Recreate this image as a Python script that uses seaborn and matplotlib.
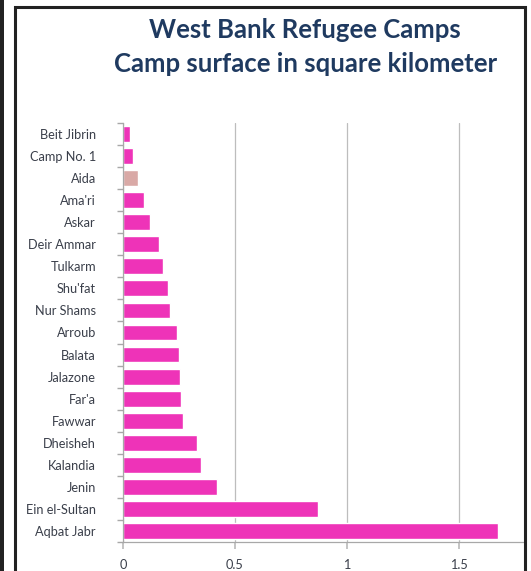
import matplotlib
matplotlib.use("Agg")
import matplotlib.pyplot as plt
import seaborn as sns
import pandas as pd
import numpy as np
from matplotlib.patches import Rectangle

camps = ["Beit Jibrin", "Camp No. 1", "Aida", "Ama'ri", "Askar", "Deir Ammar",
         "Tulkarm", "Shu'fat", "Nur Shams", "Arroub", "Balata", "Jalazone",
         "Far'a", "Fawwar", "Dheisheh", "Kalandia", "Jenin", "Ein el-Sultan",
         "Aqbat Jabr"]
surface = [0.03, 0.045, 0.067, 0.095, 0.12, 0.16, 0.18, 0.2, 0.21, 0.24,
           0.25, 0.253, 0.26, 0.27, 0.33, 0.35, 0.42, 0.87, 1.675]
highlight = "Aida"

df = pd.DataFrame({"camp": camps, "surface": surface})

sns.set_theme(style="white")
plt.rcParams['font.family'] = ['Lato', 'DejaVu Sans']

fig = plt.figure(figsize=(5.31, 5.71), dpi=100)
ax = fig.add_axes([0.2316, 0.0508, 0.7533, 0.7338])

palette = {c: ("#D9A9A6" if c == highlight else "#EE33B8") for c in camps}
sns.barplot(data=df, y="camp", x="surface", hue="camp", palette=palette,
            legend=False, width=0.72, ax=ax, saturation=1)

ax.set_xlim(0, 1.786)
ax.set_ylim(len(camps) - 0.5, -0.5)
ax.set_xticks([0, 0.5, 1, 1.5])
ax.set_xticklabels(["0", "0.5", "1", "1.5"])
ax.xaxis.grid(True, color="#BDBDBD", linewidth=0.9)
ax.set_axisbelow(True)
ax.set_xlabel("")
ax.set_ylabel("")

for s in ["top", "right"]:
    ax.spines[s].set_visible(False)
for s in ["left", "bottom"]:
    ax.spines[s].set_color("#A8A8A8")
    ax.spines[s].set_linewidth(0.9)

ax.tick_params(axis="y", which="major", length=0, pad=19.5, labelsize=9.2, labelcolor="#3A3F4A")
ax.set_yticks(np.arange(-0.5, len(camps), 1), minor=True)
ax.tick_params(axis="y", which="minor", length=4, color="#A8A8A8", left=True)
ax.tick_params(axis="x", length=5, color="#BDBDBD", bottom=True, labelsize=9.2,
               labelcolor="#3A3F4A", pad=7)

fig.text(0.575, 0.947, "West Bank Refugee Camps", ha="center", va="center",
         fontsize=18.5, fontweight="bold", color="#1F3A60")
fig.text(0.575, 0.888, "Camp surface in square kilometer", ha="center", va="center",
         fontsize=18.5, fontweight="bold", color="#1F3A60")

# surrounding frame lines of the original slide
W, H = 531, 571
fig.add_artist(Rectangle((0, 0), 3.5 / W, 1, transform=fig.transFigure,
                         facecolor="#222222", edgecolor="none"))
fig.add_artist(Rectangle((15 / W, -0.05), (525 - 15) / W, (571 - 7) / H + 0.05,
                         transform=fig.transFigure, facecolor="none",
                         edgecolor="#222222", linewidth=2.2))

fig.savefig("out.png", dpi=100)
